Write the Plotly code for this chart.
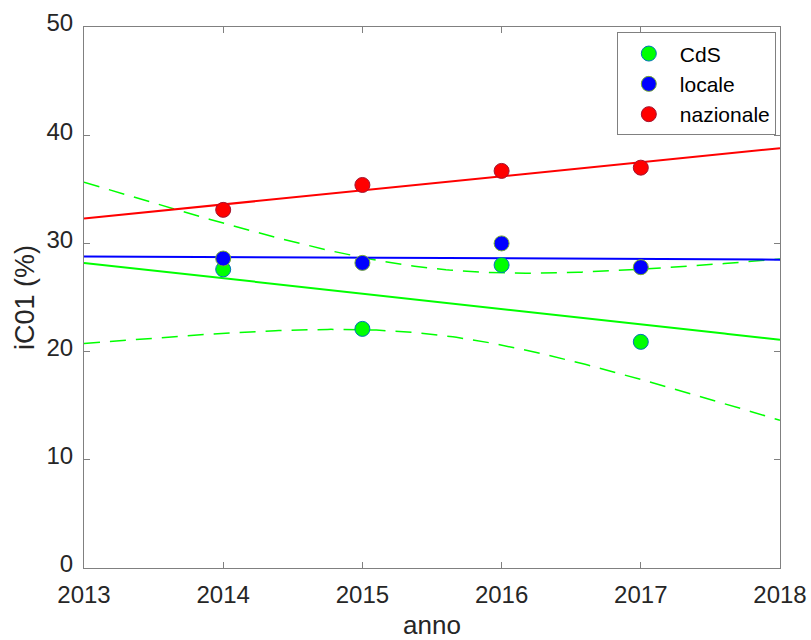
import numpy as np
import plotly.graph_objects as go

# Survey years and iC01 percentages
years = [2014, 2015, 2016, 2017]
cds = [27.6, 22.1, 28.0, 20.9]
locale = [28.6, 28.2, 30.0, 27.8]
nazionale = [33.1, 35.4, 36.7, 37.0]

x_ticks = [2013, 2014, 2015, 2016, 2017, 2018]
y_ticks = [0, 10, 20, 30, 40, 50]

FONT = "Liberation Sans, Arial, Helvetica, sans-serif"
TXT = "#262626"
AXC = "#808080"

# coverage factor for the regression band around the CdS trend
band_k = 1.56

xs = np.linspace(2013, 2018, 201)
xa = np.array(years, dtype=float)


def trend(values):
    p = np.polyfit(xa, np.array(values, dtype=float), 1)
    return np.polyval(p, xs)


def band(values):
    y = np.array(values, dtype=float)
    p = np.polyfit(xa, y, 1)
    resid = y - np.polyval(p, xa)
    n = len(xa)
    s = np.sqrt(np.sum(resid ** 2) / (n - 2))
    sxx = np.sum((xa - xa.mean()) ** 2)
    half = band_k * s * np.sqrt(1.0 / n + (xs - xa.mean()) ** 2 / sxx)
    fit = np.polyval(p, xs)
    return fit - half, fit + half


fig = go.Figure()

cds_fit = trend(cds)
loc_fit = trend(locale)
naz_fit = trend(nazionale)
lo, hi = band(cds)

green = "#00ff00"
blue = "#0000ff"
red = "#ff0000"
dash = "16px,10px"

fig.add_trace(go.Scatter(x=xs, y=cds_fit, mode="lines", line=dict(color=green, width=2),
                         showlegend=False, hoverinfo="skip"))
fig.add_trace(go.Scatter(x=xs, y=hi, mode="lines", line=dict(color=green, width=1.5, dash=dash),
                         showlegend=False, hoverinfo="skip"))
fig.add_trace(go.Scatter(x=xs, y=lo, mode="lines", line=dict(color=green, width=1.5, dash=dash),
                         showlegend=False, hoverinfo="skip"))
fig.add_trace(go.Scatter(x=xs, y=loc_fit, mode="lines", line=dict(color=blue, width=2),
                         showlegend=False, hoverinfo="skip"))
fig.add_trace(go.Scatter(x=xs, y=naz_fit, mode="lines", line=dict(color=red, width=2),
                         showlegend=False, hoverinfo="skip"))

fig.add_trace(go.Scatter(x=years, y=cds, mode="markers", name="CdS",
                         marker=dict(size=15, color=green, line=dict(color="#0072BD", width=1))))
fig.add_trace(go.Scatter(x=years, y=locale, mode="markers", name="locale",
                         marker=dict(size=15, color=blue, line=dict(color="#77AC30", width=1))))
fig.add_trace(go.Scatter(x=years, y=nazionale, mode="markers", name="nazionale",
                         marker=dict(size=15, color=red, line=dict(color="#A2142F", width=1))))

axis_common = dict(
    showgrid=False, zeroline=False, showline=True, linecolor=AXC, linewidth=1,
    mirror="ticks", ticks="inside", ticklen=6, tickcolor=AXC, tickwidth=1,
    tickfont=dict(family=FONT, size=24, color=TXT), automargin=False,
)

fig.update_layout(
    width=811, height=640,
    margin=dict(l=84, r=31, t=27, b=72),
    paper_bgcolor="white", plot_bgcolor="white",
    font=dict(family=FONT, color=TXT),
    xaxis=dict(range=[2013, 2018], tickvals=x_ticks, ticktext=[str(v) for v in x_ticks],
               ticklabelstandoff=5,
               title=dict(text="anno", font=dict(family=FONT, size=26, color=TXT), standoff=9),
               **axis_common),
    yaxis=dict(range=[0, 50], tickvals=y_ticks, ticktext=[str(v) for v in y_ticks],
               ticklabelstandoff=5, ticklabelshift=-4,
               title=dict(text="iC01 (%)", font=dict(family=FONT, size=27, color=TXT), standoff=4),
               **axis_common),
    legend=dict(x=0.994, y=0.99, xanchor="right", yanchor="top",
                bgcolor="white", bordercolor=AXC, borderwidth=1,
                font=dict(family=FONT, size=21, color="#000000"),
                itemwidth=52),
)

fig.write_html("out.html")
